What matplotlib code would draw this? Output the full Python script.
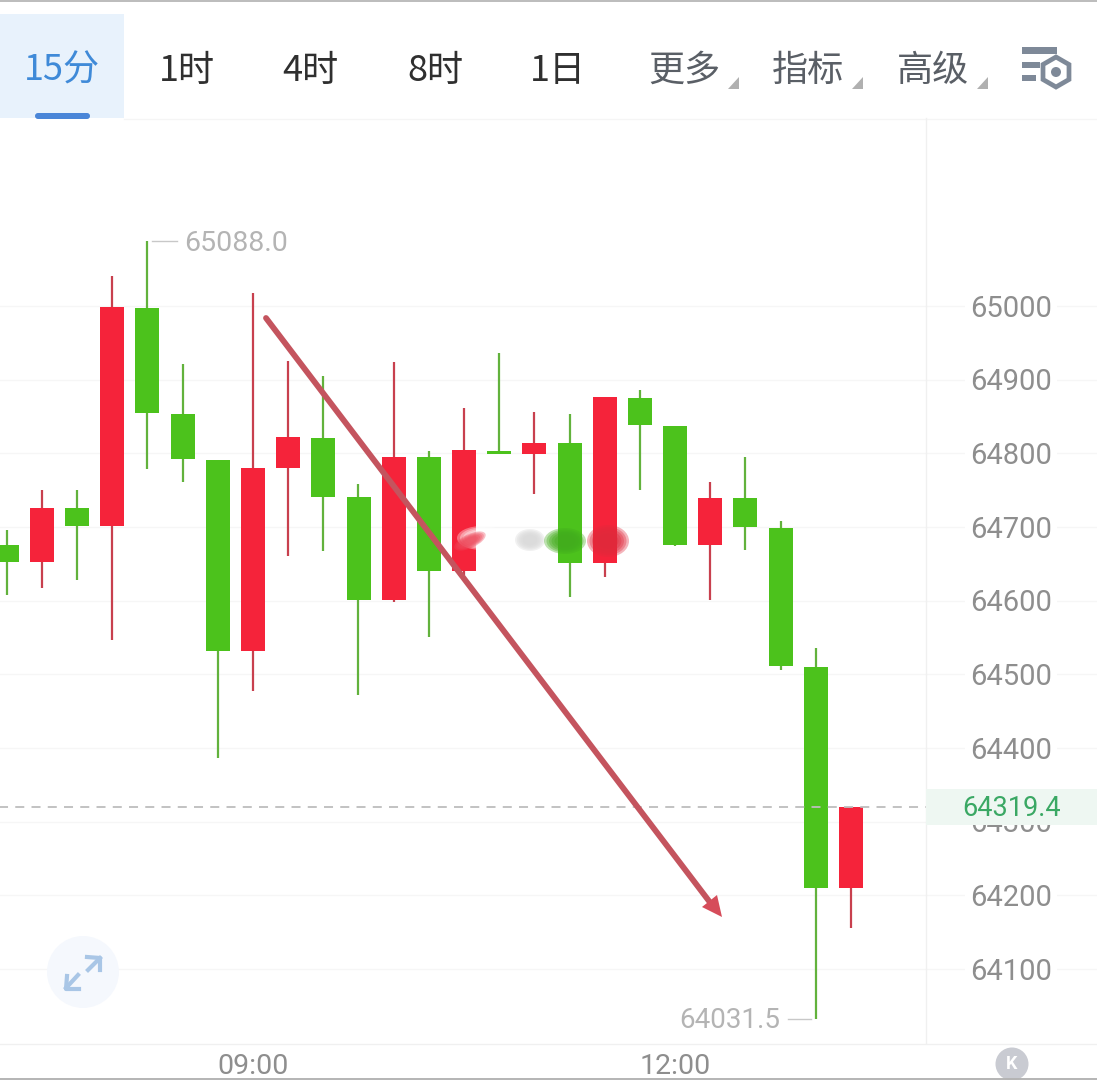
import matplotlib
matplotlib.use('Agg')
import matplotlib.pyplot as plt
from matplotlib.patches import Rectangle, FancyBboxPatch, Circle, Ellipse, Polygon, RegularPolygon

# candles, left to right
body_top = [64676, 64726, 64726, 64999, 64997, 64853, 64791, 64780, 64822, 64821, 64741, 64795, 64795,
            64805, 64803, 64814, 64814, 64876, 64875, 64837, 64739, 64739, 64699, 64510, 64320]
body_bot = [64653, 64653, 64701, 64701, 64855, 64792, 64532, 64532, 64780, 64741, 64601, 64601, 64640,
            64640, 64799, 64799, 64651, 64651, 64838, 64676, 64676, 64700, 64511, 64210, 64210]
high = [64696, 64750, 64750, 65041, 65088, 64921, 64791, 65018, 64925, 64905, 64758, 64924, 64803,
        64862, 64936, 64856, 64853, 64876, 64886, 64837, 64761, 64795, 64708, 64536, 64320]
low = [64608, 64617, 64628, 64547, 64779, 64761, 64386, 64477, 64661, 64667, 64472, 64598, 64551,
       64635, 64799, 64745, 64605, 64632, 64750, 64674, 64601, 64669, 64506, 64032, 64156]
is_red = [0, 1, 0, 1, 0, 0, 0, 1, 1, 0, 0, 1, 0, 1, 0, 1, 0, 1, 0, 0, 1, 0, 0, 0, 1]

price_ticks = [65000, 64900, 64800, 64700, 64600, 64500, 64400, 64300, 64200, 64100]
last_price = 64319.4
max_price = 65088.0
min_price = 64031.5
time_pos = [7, 19]
time_labels = ['09:00', '12:00']
tabs = ['15分', '1时', '4时', '8时', '1日', '更多', '指标', '高级']

RED = '#f5233a'
GREEN = '#4cc21c'
W, H = 1097, 1080
CJK = ['Noto Sans CJK SC', 'DejaVu Sans']
plt.rcParams['font.family'] = ['Roboto', 'DejaVu Sans']

fig = plt.figure(figsize=(W / 100, H / 100), dpi=100, facecolor='white')

# chart axes, x in candle index, y in price
top_px, bot_px = 118, 1043
ax = fig.add_axes([0, 1 - bot_px / H, 1, (bot_px - top_px) / H])
step = 35.17
ax.set_xlim(-6.8 / step, (W - 6.8) / step)
ax.set_ylim(65000 - (bot_px - 306) / 0.7367, 65000 + (306 - top_px) / 0.7367)
for s in ax.spines.values():
    s.set_visible(False)
ax.set_yticks([])
ax.set_xticks(time_pos)
ax.set_xticklabels(time_labels, fontsize=20.5, color='#8e8e8e')
ax.tick_params(axis='x', length=0, pad=7)

ax.hlines(price_ticks, -1, 40, color='#f6f6f6', lw=1, zorder=1)
trans = ax.get_yaxis_transform()
for p in price_ticks:
    ax.text(1011 / W, p - 3.5, str(p), transform=trans, ha='center', va='center', fontsize=21, color='#8e8e8e',
            zorder=2, bbox=dict(fc='white', ec='none', pad=4))

xs = list(range(len(body_top)))
colors = [RED if r else GREEN for r in is_red]
wick_colors = ['#c8404e' if r else '#62b23c' for r in is_red]
heights = [t - b for t, b in zip(body_top, body_bot)]
ax.vlines(xs, low, high, colors=wick_colors, lw=1.6, zorder=3)
ax.bar(xs, heights, bottom=body_bot, width=24 / step, color=colors, zorder=4)

ax.hlines(last_price, -1, (926 - 6.8) / step, color='#bdbdbd', lw=1.3, linestyles=(0, (5, 4)), zorder=5)

# max / min notes
ax.plot([4.13, 4.85], [max_price, max_price], color='#c8c8c8', lw=1, zorder=3)
ax.text(5.03, max_price - 2.5, '65088.0', ha='left', va='center', fontsize=20.5, color='#b4b4b4', zorder=3)
ax.plot([22.2, 22.87], [min_price, min_price], color='#c8c8c8', lw=1, zorder=3)
ax.text(21.98, min_price - 1, '64031.5', ha='right', va='center', fontsize=20, color='#b4b4b4', zorder=3)

# overlay in image pixels for the app chrome
ov = fig.add_axes([0, 0, 1, 1], facecolor='none')
ov.set_xlim(0, W)
ov.set_ylim(H, 0)
ov.axis('off')

ov.add_patch(Rectangle((0, 14), 124, 104, fc='#e8f2fc', ec='none'))
ov.add_patch(FancyBboxPatch((35, 113), 55, 6, boxstyle='round,pad=0,rounding_size=3', fc='#4a86d8', ec='none'))
ov.plot([0, W], [0.8, 0.8], color='#bcbcbc', lw=1.4)
ov.plot([0, W], [1078.5, 1078.5], color='#b4b4b4', lw=1.4)
ov.plot([124, W], [118.5, 118.5], color='#f5f5f5', lw=1)
ov.plot([926, 926], [118, 1043], color='#f0f0f0', lw=1)
ov.plot([0, W], [1043.5, 1043.5], color='#f0f0f0', lw=1)

tab_x = [62, 187, 310, 435, 558, 684, 808, 933]
tab_colors = ['#3f8ad8', '#2f2f2f', '#2f2f2f', '#2f2f2f', '#2f2f2f', '#5a5f66', '#5a5f66', '#5a5f66']
for x, t, c in zip(tab_x, tabs, tab_colors):
    ov.text(x, 71, t, ha='center', va='center', fontsize=26, color=c, family=CJK)
for x in [739, 863, 988]:
    ov.add_patch(Polygon([[x, 77], [x, 89], [x - 11, 89]], fc='#b0b0b0', ec='none'))

# settings icon
ov.add_patch(Rectangle((1022, 47), 35, 7, fc='#7e8998', ec='none'))
ov.add_patch(Rectangle((1022, 62), 18, 6, fc='#7e8998', ec='none'))
ov.add_patch(Rectangle((1022, 75), 14, 6, fc='#7e8998', ec='none'))
ov.add_patch(RegularPolygon((1056, 72), 6, radius=15, fc='white', ec='#7e8998', lw=3.4))
ov.add_patch(Circle((1056, 72), 5, fc='#7e8998', ec='none'))

# last price tag, covers the 64300 label
ov.add_patch(Rectangle((926, 789), 171, 36, fc='#eef7f2', ec='none', zorder=5))
ov.text(1012, 809, '64319.4', ha='center', va='center', fontsize=19.5, color='#3aa864', zorder=6)

# smudges over the candles, soft edge from stacked ellipses
def smudge(x, y, w, h, color, angle=0):
    for k in [1.0, 0.88, 0.76, 0.64, 0.5]:
        ov.add_patch(Ellipse((x, y), w * k, h * k, fc=color, ec='none', alpha=0.35, angle=angle, zorder=6))

smudge(482, 538, 50, 24, 'white')
smudge(470, 541, 34, 14, '#ee4a5c', angle=-25)
smudge(530, 540, 30, 22, '#d8d8d8')
smudge(565, 541, 42, 26, '#42ac1c')
smudge(608, 541, 42, 32, '#e02a3c')

# drawn arrow
ov.plot([266, 712], [318, 905], color='#c4545e', lw=4.2, solid_capstyle='round', zorder=7)
ov.add_patch(Polygon([[722, 917], [702, 907], [717, 895]], fc='#d64c5a', ec='none', zorder=7))

# expand button
ov.add_patch(Circle((83, 972), 36, fc='#f5f8fd', ec='none'))
for a, b, head in [((88, 970), (100, 958), [(87, 957), (100, 958), (100, 970)]),
                   ((78, 975), (66, 988), [(67, 976), (66, 989), (79, 989)])]:
    ov.plot([a[0], b[0]], [a[1], b[1]], color='#a9c6e6', lw=3)
    ov.plot([p[0] for p in head], [p[1] for p in head], color='#a9c6e6', lw=3)

# jump to latest button
ov.add_patch(Circle((1012, 1064), 16.5, fc='#c9cbd2', ec='none'))
ov.text(1012, 1064, 'K', ha='center', va='center', fontsize=13, fontweight='bold', color='white')

fig.savefig('out.png', dpi=100)
